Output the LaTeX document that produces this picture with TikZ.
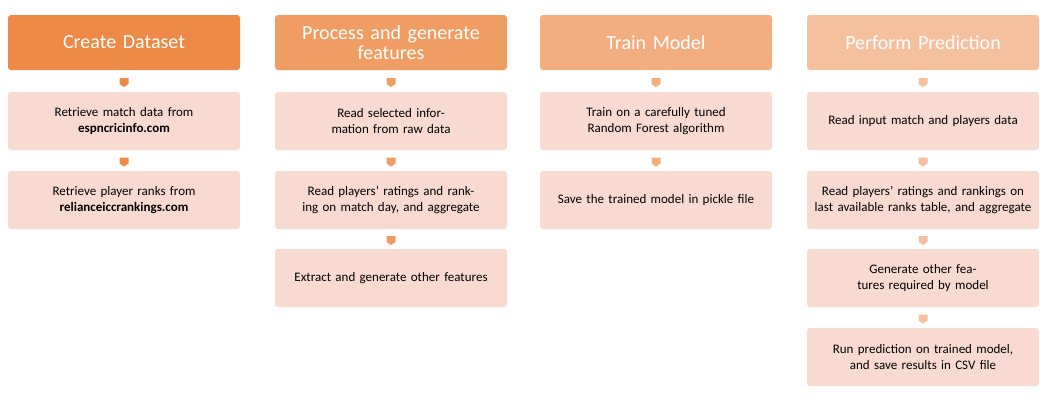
\documentclass[tikz,border=0pt]{standalone}
\usepackage{fontspec}
\setmainfont{Carlito}
\usetikzlibrary{shapes.arrows,calc}
\definecolor{hA}{HTML}{EE8A47}
\definecolor{hB}{HTML}{F09D63}
\definecolor{hC}{HTML}{F2AE80}
\definecolor{hD}{HTML}{F5C09E}
\definecolor{bx}{HTML}{F9DAD0}
\tikzset{x=1pt,y=-1pt,
 hdr/.style={rounded corners=3pt,minimum width=232pt,minimum height=55pt,text=white,font=\fontsize{20}{22}\selectfont,align=center,text width=220pt},
 stepbox/.style={fill=bx,rounded corners=3pt,minimum width=232pt,minimum height=58pt,font=\fontsize{13}{15.5}\selectfont,align=center,text width=222pt},
 arr/.style={single arrow,shape border rotate=270,minimum width=9pt,single arrow head extend=0pt,inner sep=0pt,minimum height=9pt,single arrow tip angle=110}}
\begin{document}
\begin{tikzpicture}
\useasboundingbox (0,0) rectangle (1051,400);
\foreach \c/\x/\col/\t in {1/124/hA/Create Dataset,2/391/hB/{Process and generate\\[-2pt]features},3/656/hC/Train Model,4/923/hD/Perform Prediction}{
 \node[hdr,fill=\col] (h\c) at (\x,42.5) {\t};
}
\node[stepbox] (a1) at (124,121) {Retrieve match data from\\\textbf{espncricinfo.com}};
\node[stepbox] (a2) at (124,200) {Retrieve player ranks from\\\textbf{relianceiccrankings.com}};
\node[stepbox] (b1) at (391,121) {Read selected information from raw data};
\node[stepbox] (b2) at (391,200) {Read players’ ratings and ranking on match day, and aggregate};
\node[stepbox] (b3) at (391,278) {Extract and generate other features};
\node[stepbox] (c1) at (656,121) {Train on a carefully tuned Random Forest algorithm};
\node[stepbox] (c2) at (656,200) {Save the trained model in pickle file};
\node[stepbox] (d1) at (923,121) {Read input match and players data};
\node[stepbox] (d2) at (923,200) {Read players’ ratings and rankings on last available ranks table, and aggregate};
\node[stepbox] (d3) at (923,278) {Generate other features required by model};
\node[stepbox] (d4) at (923,357) {Run prediction on trained model,\\and save results in CSV file};
\foreach \u/\v/\col in {h1/a1/hA,a1/a2/hA,h2/b1/hB,b1/b2/hB,b2/b3/hB,h3/c1/hC,c1/c2/hC,h4/d1/hD,d1/d2/hD,d2/d3/hD,d3/d4/hD}{
 \node[arr,fill=\col] (ar\u) at ($(\u.south)!0.5!(\v.north)$) {};
}
\end{tikzpicture}
\end{document}
